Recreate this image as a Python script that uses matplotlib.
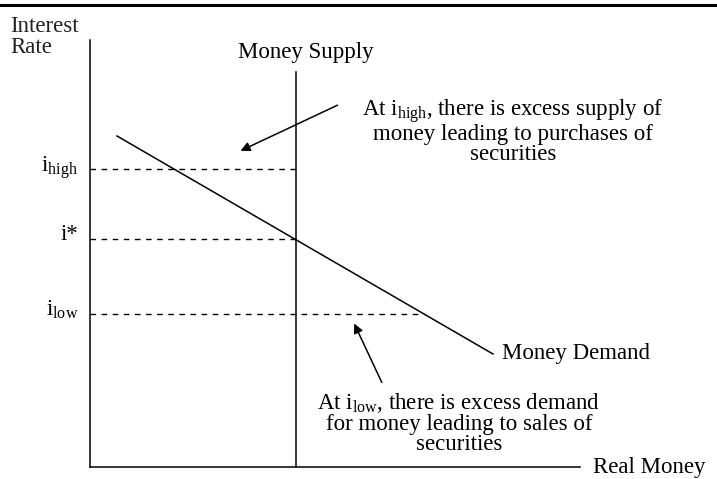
import matplotlib
matplotlib.use("Agg")
import matplotlib.pyplot as plt
from matplotlib.lines import Line2D

plt.rcParams['font.family'] = ['Liberation Serif', 'DejaVu Serif']
plt.rcParams['mathtext.fontset'] = 'custom'
plt.rcParams['mathtext.rm'] = 'Liberation Serif'
plt.rcParams['mathtext.it'] = 'Liberation Serif'

# --- data (diagram units) ---
money_supply = 206
supply_top = 395
demand_x = [27, 403]
demand_y = [331, 113]
rate_names = ['high', 'star', 'low']
rate_values = [298, 228, 153]
rate_labels = [r'$\mathrm{i}_{\mathrm{high}}$', r'i*', r'$\mathrm{i}_{\mathrm{low}}$']
x_axis_len = 490
y_axis_len = 427

def demand_q(r):
    slope = (demand_y[1] - demand_y[0]) / (demand_x[1] - demand_x[0])
    return demand_x[0] + (r - demand_y[0]) / slope

fig = plt.figure(figsize=(7.17, 4.79), dpi=100)
ax = fig.add_axes([0, 0, 1, 1])
ax.set_xlim(-90, 627)
ax.set_ylim(-12, 467)
ax.axis('off')

# top border
fig.add_artist(Line2D([0, 1], [0.989, 0.989], transform=fig.transFigure, color='black', lw=2.2))

# axes
ax.plot([0, 0], [0, y_axis_len], color='black', lw=1.1)
ax.plot([0, x_axis_len], [0, 0], color='black', lw=1.1)

# money supply
ax.plot([money_supply, money_supply], [0, supply_top], color='black', lw=1.1)
# money demand
ax.plot(demand_x, demand_y, color='black', lw=1.1)

# dashed rate lines
for name, r, lab in zip(rate_names, rate_values, rate_labels):
    xe = money_supply if name != 'low' else demand_q(r)
    ax.plot([0, xe], [r, r], color='black', lw=1.0, ls=(0, (4, 4)))

fs = 16.5
ax.text(-12, rate_values[0] + 1, rate_labels[0], ha='right', va='center', fontsize=fs)
ax.text(-12, rate_values[1] + 5, rate_labels[1], ha='right', va='center', fontsize=fs)
ax.text(-12, rate_values[2] + 4, rate_labels[2], ha='right', va='center', fontsize=fs)

ax.text(-80, 430, 'Interest\nRate', ha='left', va='center', fontsize=fs, linespacing=0.95, color='#222222')
ax.text(money_supply + 10, 415, 'Money Supply', ha='center', va='center', fontsize=fs)
ax.text(demand_x[1] + 9, demand_y[1], 'Money Demand', ha='left', va='center', fontsize=fs)
ax.text(x_axis_len + 13, -1, 'Real Money', ha='left', va='center', fontsize=fs)

ax.annotate('', xy=(148, 315), xytext=(250, 363),
            arrowprops=dict(arrowstyle='-|>', color='black', lw=1.1, mutation_scale=14))
ax.text(423, 336, 'At $\\mathrm{i}_{\\mathrm{high}}$, there is excess supply of\nmoney leading to purchases of\nsecurities',
        ha='center', va='center', fontsize=fs, linespacing=0.93)

ax.annotate('', xy=(263, 146), xytext=(293, 82),
            arrowprops=dict(arrowstyle='-|>', color='black', lw=1.1, mutation_scale=14))
ax.text(369, 44, 'At $\\mathrm{i}_{\\mathrm{low}}$, there is excess demand\nfor money leading to sales of\nsecurities',
        ha='center', va='center', fontsize=fs, linespacing=0.93)

fig.savefig('out.png', dpi=100, facecolor='white')
